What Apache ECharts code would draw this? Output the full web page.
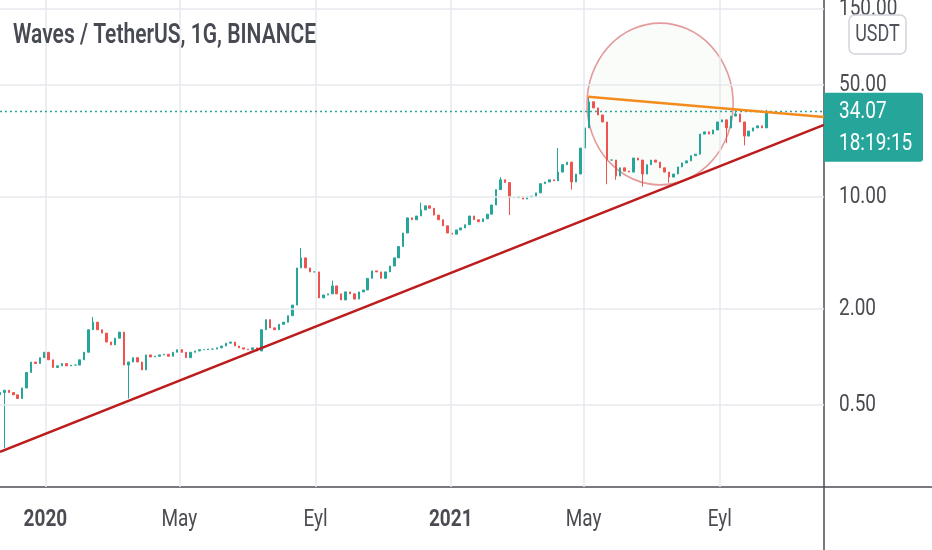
<!DOCTYPE html>
<html>
<head>
<meta charset="utf-8">
<title>Waves / TetherUS, 1G, BINANCE</title>
<script src="https://cdn.jsdelivr.net/npm/echarts@6/dist/echarts.min.js"></script>
<style>
html,body{margin:0;padding:0;background:#fff;}
#container{width:932px;height:550px;}
</style>
</head>
<body>
<div id="container"></div>
<script>
// mumlar 4 gunde bir, 21 Kasim 2019'dan itibaren
var startDate = '2019-11-21';
var stepDays = 4;
var firstOpen = 0.58;
var closes = [
  0.60, 0.62, 0.60, 0.58, 0.55, 0.64, 0.80, 0.93, 0.91, 0.99,
  1.07, 0.96, 0.86, 0.88, 0.91, 0.88, 0.89, 0.89, 0.96, 1.07,
  1.48, 1.65, 1.48, 1.41, 1.24, 1.19, 1.31, 1.43, 0.89, 0.93,
  0.99, 0.93, 0.83, 1.03, 1.00, 1.01, 1.03, 1.04, 1.01, 1.07,
  1.11, 1.07, 0.99, 1.07, 1.09, 1.11, 1.11, 1.12, 1.12, 1.14,
  1.17, 1.22, 1.24, 1.17, 1.14, 1.12, 1.11, 1.14, 1.09, 1.48,
  1.71, 1.52, 1.48, 1.60, 1.65, 1.81, 2.11, 3.60, 4.16, 3.60,
  3.40, 3.40, 2.34, 2.44, 2.48, 2.78, 2.48, 2.27, 2.55, 2.48,
  2.30, 2.55, 2.62, 3.10, 3.45, 3.40, 3.10, 3.40, 3.70, 4.16,
  4.90, 5.95, 7.40, 7.20, 7.60, 8.30, 8.80, 8.50, 7.70, 7.20,
  6.60, 5.95, 5.85, 6.22, 6.40, 6.70, 7.60, 7.20, 7.00, 7.30,
  7.80, 8.90, 11.1, 12.8, 12.3, 9.90, 9.90, 10.0, 9.70, 10.0,
  10.1, 10.6, 12.1, 12.4, 12.8, 12.6, 14.3, 15.9, 16.5, 12.4,
  13.9, 20.2, 27.0, 39.3, 36.0, 32.5, 29.4, 17.0, 17.0, 13.5,
  15.2, 14.5, 14.3, 17.5, 17.0, 13.9, 15.9, 17.0, 16.5, 15.2,
  14.3, 13.3, 13.9, 15.4, 16.3, 16.8, 18.1, 18.5, 24.7, 25.5,
  24.7, 26.2, 29.4, 30.3, 27.0, 32.0, 33.0, 29.4, 24.0, 25.8,
  27.0, 27.8, 27.0, 34.07
];
// belirgin fitiller (mum sirasi -> fiyat)
var wickLowIdx  = [1, 29, 115, 129, 137, 139, 145, 151, 164, 168];
var wickLowVal  = [0.27, 0.55, 7.7, 11.1, 12.0, 12.8, 11.6, 12.3, 21.7, 21.0];
var wickHighIdx = [21, 68, 75, 95, 113, 126, 133, 166, 173];
var wickHighVal = [1.78, 4.8, 3.0, 9.2, 13.3, 20.2, 42.2, 35.0, 35.0];

var lastPrice = 34.07;
var lastTime = '18:19:15';
var priceTicks = [0.5, 2, 10, 50, 150];
var dateTicks = ['2020-01-01', '2020-05-01', '2020-09-01', '2021-01-01', '2021-05-01', '2021-09-01'];
var dateTickLabels = ['2020', 'May', 'Eyl', '2021', 'May', 'Eyl'];
var dateTickBold = [true, false, false, true, false, false];
var supportLine = [['2019-11-21', 0.255], ['2021-12-04', 28.2]];
var resistLine = [['2021-05-05', 42.2], ['2021-12-04', 31.6]];
var circleDates = ['2021-05-04', '2021-09-13'];
var circlePrices = [122, 11.9];

function ts(s) {
    var p = s.split('-');
    return new Date(+p[0], +p[1] - 1, +p[2]).getTime();
}

var dom = document.getElementById('container');
var myChart = echarts.init(dom);

var t0 = ts(startDate);
var candles = [];
var prev = firstOpen;
for (var i = 0; i < closes.length; i++) {
    var o = prev, c = closes[i];
    var lo = Math.min(o, c), hi = Math.max(o, c);
    var k = wickLowIdx.indexOf(i);
    if (k >= 0) lo = Math.min(lo, wickLowVal[k]);
    k = wickHighIdx.indexOf(i);
    if (k >= 0) hi = Math.max(hi, wickHighVal[k]);
    var d = new Date(t0);
    d.setDate(d.getDate() + i * stepDays);
    candles.push([d.getTime(), o, c, lo, hi]);
    prev = c;
}

var gridLines = [];
priceTicks.forEach(function (v) { gridLines.push({ yAxis: v }); });
dateTicks.forEach(function (s) { gridLines.push({ xAxis: ts(s) }); });

var axisColor = '#4b4e56';
var textColor = '#4a4c52';

var option = {
    animation: false,
    backgroundColor: '#ffffff',
    grid: { left: 0, right: 108, top: 0, bottom: 63 },
    xAxis: {
        type: 'time',
        min: ts('2019-11-21'),
        max: ts('2021-12-04'),
        axisLine: { onZero: false, lineStyle: { color: axisColor, width: 1.5 } },
        axisTick: { show: false },
        axisLabel: { show: false },
        splitLine: { show: false }
    },
    yAxis: {
        type: 'log',
        logBase: 10,
        position: 'right',
        min: 0.154,
        max: 170,
        axisLine: { show: true, onZero: false, lineStyle: { color: axisColor, width: 1.5 } },
        axisTick: { show: false },
        axisLabel: { show: false },
        splitLine: { show: false }
    },
    series: [
        {
            name: 'grid',
            type: 'line',
            data: [],
            silent: true,
            z: 1,
            markLine: {
                silent: true,
                symbol: ['none', 'none'],
                label: { show: false },
                lineStyle: { color: '#e6e9ee', width: 1.5, type: 'solid' },
                data: gridLines
            }
        },
        {
            name: 'WAVESUSDT',
            type: 'candlestick',
            z: 3,
            barWidth: 2,
            itemStyle: {
                color: '#26a69a',
                color0: '#ef5350',
                borderColor: '#26a69a',
                borderColor0: '#ef5350',
                borderWidth: 1
            },
            data: candles,
            markLine: {
                silent: true,
                symbol: ['none', 'none'],
                label: { show: false },
                lineStyle: { color: '#26a69a', width: 1.3, type: [2, 3] },
                data: [{ yAxis: lastPrice }]
            }
        },
        {
            name: 'destek',
            type: 'line',
            z: 5,
            symbol: 'none',
            lineStyle: { color: '#bd1c1c', width: 2.5 },
            data: supportLine.map(function (p) { return [ts(p[0]), p[1]]; })
        },
        {
            name: 'direnc',
            type: 'line',
            z: 6,
            symbol: 'none',
            lineStyle: { color: '#f38b1d', width: 2.5 },
            data: resistLine.map(function (p) { return [ts(p[0]), p[1]]; })
        }
    ]
};
myChart.setOption(option, true);

// yazilar ve isaretler, eksenden piksele cevrilerek
var axisX = myChart.convertToPixel({ xAxisIndex: 0 }, ts('2021-12-04'));
var axisY = myChart.convertToPixel({ yAxisIndex: 0 }, 0.154);
var sy = 1.3;
var g = [];

g.push({
    type: 'text', x: 13, y: 36, originX: 0, originY: 0, scaleY: 1.3, z: 20,
    style: {
        text: 'Waves / TetherUS, 1G, BINANCE', fill: '#474a52',
        font: '600 21px Roboto, sans-serif', textVerticalAlign: 'middle'
    }
});

priceTicks.forEach(function (v) {
    g.push({
        type: 'text', x: axisX + 15, y: myChart.convertToPixel({ yAxisIndex: 0 }, v), scaleY: sy, z: 20,
        style: { text: v.toFixed(2), fill: textColor, font: '19px Roboto, sans-serif', textVerticalAlign: 'middle' }
    });
});

dateTicks.forEach(function (s, j) {
    g.push({
        type: 'text', x: myChart.convertToPixel({ xAxisIndex: 0 }, ts(s)), y: 520, scaleY: sy, z: 20,
        style: {
            text: dateTickLabels[j], fill: textColor,
            font: (dateTickBold[j] ? 'bold ' : '') + '19px Roboto, sans-serif',
            textAlign: 'center', textVerticalAlign: 'middle'
        }
    });
});

// USDT dugmesi
g.push({
    type: 'rect', z: 21,
    shape: { x: 849, y: 15, width: 57, height: 39, r: 6 },
    style: { fill: '#ffffff', stroke: '#d1d4dc', lineWidth: 1.5 }
});
g.push({
    type: 'text', x: 877.5, y: 35, scaleY: sy, z: 22,
    style: { text: 'USDT', fill: '#50535e', font: '18px Roboto, sans-serif', textAlign: 'center', textVerticalAlign: 'middle' }
});

// son fiyat kutusu
var py = myChart.convertToPixel({ yAxisIndex: 0 }, lastPrice);
g.push({
    type: 'rect', z: 21,
    shape: { x: axisX, y: py - 19, width: 99, height: 69, r: [0, 3, 3, 0] },
    style: { fill: '#26a69a' }
});
g.push({
    type: 'text', x: axisX + 15, y: py, scaleY: sy, z: 22,
    style: { text: lastPrice.toFixed(2), fill: '#ffffff', font: '19px Roboto, sans-serif', textVerticalAlign: 'middle' }
});
g.push({
    type: 'text', x: axisX + 15, y: py + 32, scaleY: sy, z: 22,
    style: { text: lastTime, fill: '#ffffff', font: '19px Roboto, sans-serif', textVerticalAlign: 'middle' }
});

// daire
var cl = myChart.convertToPixel({ gridIndex: 0 }, [ts(circleDates[0]), circlePrices[0]]);
var cr = myChart.convertToPixel({ gridIndex: 0 }, [ts(circleDates[1]), circlePrices[1]]);
var rx = (cr[0] - cl[0]) / 2;
g.push({
    type: 'circle', z: 1,
    x: (cl[0] + cr[0]) / 2, y: (cl[1] + cr[1]) / 2,
    scaleY: (cr[1] - cl[1]) / (cr[0] - cl[0]),
    shape: { cx: 0, cy: 0, r: rx },
    style: { fill: 'rgba(240,244,236,0.3)', stroke: '#e49b9d', lineWidth: 1.6, strokeNoScale: true }
});

// eksen cizgisi uzantilari
g.push({
    type: 'line', z: 20,
    shape: { x1: axisX, y1: axisY, x2: 932, y2: axisY },
    style: { stroke: axisColor, lineWidth: 1.5 }
});
g.push({
    type: 'line', z: 20,
    shape: { x1: axisX, y1: axisY, x2: axisX, y2: 550 },
    style: { stroke: axisColor, lineWidth: 1.5 }
});

myChart.setOption({ graphic: g });
</script>
</body>
</html>
